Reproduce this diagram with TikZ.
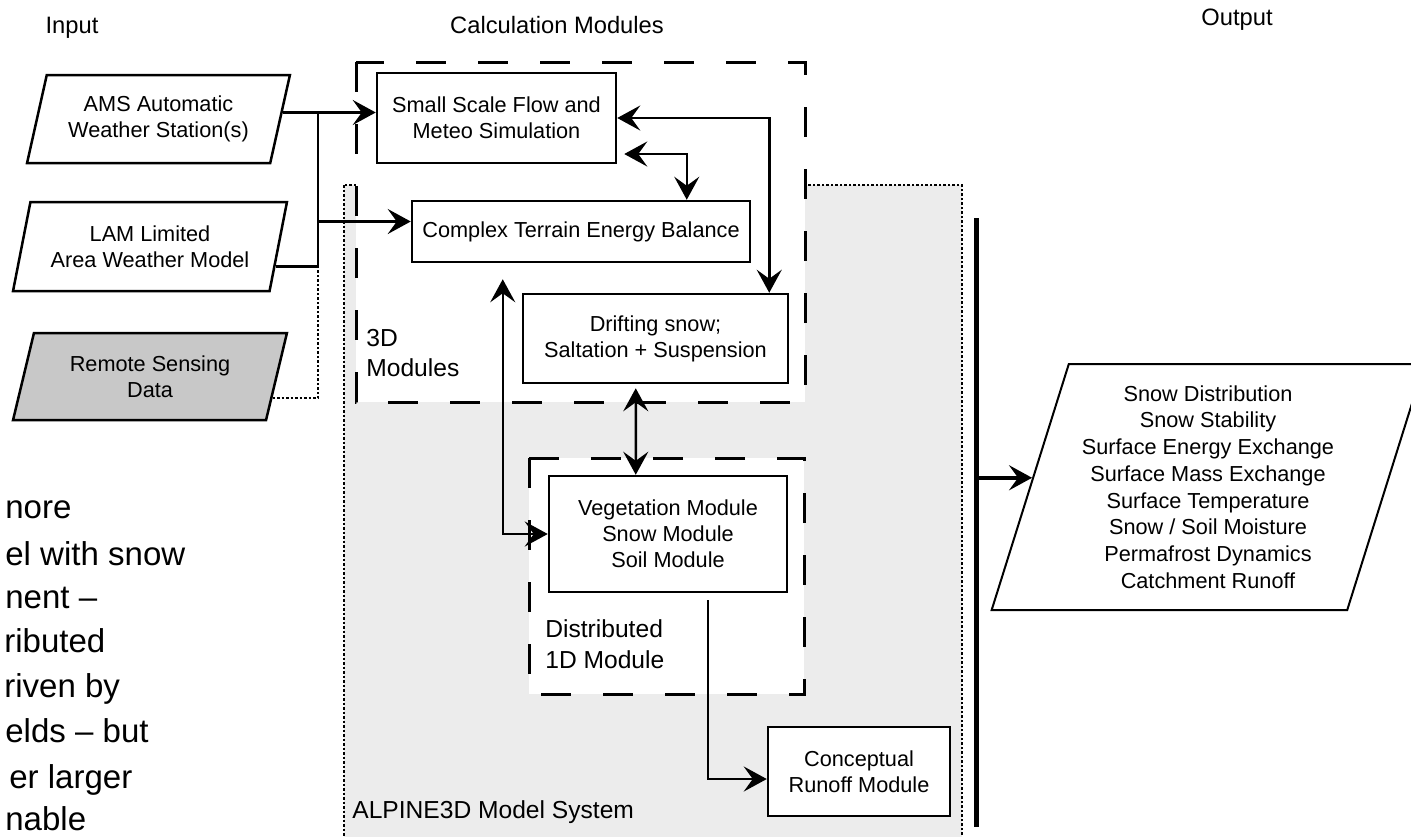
\documentclass[tikz,border=0pt]{standalone}
\usepackage{fontspec}
\setmainfont{Liberation Sans}
\usetikzlibrary{calc, arrows.meta, shapes.geometric}
\definecolor{rsgray}{RGB}{200,200,200}
\definecolor{sysgray}{RGB}{236,236,236}

\begin{document}
\begin{tikzpicture}[x=0.2mm, y=-0.2mm,
	>={Stealth[length=4.6mm, width=5mm, inset=1.8mm]},
	modbox/.style={draw, line width=0.5mm, fill=white, inner sep=0pt, align=center, font=\fontsize{12.35}{14.8}\selectfont},
	datbox/.style={modbox, trapezium, trapezium left angle=71, trapezium right angle=109, trapezium stretches=true},
	groupbox/.style={line width=0.6mm, dash pattern=on 6mm off 6.4mm, fill=white},
	grouplabel/.style={align=left, inner sep=0pt, font=\fontsize{14}{17.5}\selectfont},
	heading/.style={inner sep=0pt, font=\fontsize{13.5}{16}\selectfont},
	dotline/.style={line width=0.5mm, dash pattern=on 0.5mm off 0.4mm},
	link/.style={line width=0.5mm, ->},
	dlink/.style={line width=0.5mm, <->}]

	\useasboundingbox (0,0) rectangle (1411,836);
	\clip (0,0) rectangle (1411,836);

	% model system area and the two module groups
	\draw[dotline, fill=sysgray] (344,185) rectangle (962,860);
	\draw[groupbox] (356,62) rectangle (805,402);
	\draw[groupbox] (529,458) rectangle (804,694);

	\node[heading, anchor=base] (input) at (72,33) {Input};
	\node[heading, anchor=base] (calc) at (557,33) {Calculation Modules};
	\node[heading, anchor=base] (output) at (1237,25) {Output};

	% input data
	\node[datbox, minimum width=52.6mm, minimum height=17.6mm] (ams) at (158.5,119) {AMS Automatic\\Weather Station(s)};
	\node[datbox, minimum width=54.8mm, minimum height=17.8mm] (lam) at (150,246.5) {LAM Limited\\Area Weather Model};
	\node[datbox, fill=rsgray, minimum width=54.8mm, minimum height=17.4mm] (rs) at (150,376.5) {Remote Sensing\\Data};

	% calculation modules
	\node[modbox, minimum width=47.8mm, minimum height=18mm] (ssf) at (496.5,118) {Small Scale Flow and\\Meteo Simulation};
	\node[modbox, minimum width=67.6mm, minimum height=12.2mm] (cteb) at (581,231.5) {Complex Terrain Energy Balance};
	\node[modbox, minimum width=53mm, minimum height=17.8mm] (drift) at (655.5,338.5) {Drifting snow;\\Saltation + Suspension};
	\node[modbox, minimum width=47.6mm, minimum height=23.2mm] (veg) at (668,534) {Vegetation Module\\Snow Module\\Soil Module};
	\node[modbox, minimum width=36.4mm, minimum height=17.8mm] (crm) at (859,771.5) {Conceptual\\Runoff Module};

	\node[grouplabel, anchor=west] (lbl3d) at (366,353) {3D\\Modules};
	\node[grouplabel, anchor=west] (lbl1d) at (545,644) {Distributed\\1D Module};
	\node[grouplabel, anchor=base west] (lblsys) at (352,818) {ALPINE3D Model System};

	% output
	\node[datbox, line width=0.4mm, minimum width=86.8mm, minimum height=49.2mm, font=\fontsize{12.35}{15.2}\selectfont] (out) at (1208,487) {Snow Distribution\\Snow Stability\\Surface Energy Exchange\\Surface Mass Exchange\\Surface Temperature\\Snow / Soil Moisture\\Permafrost Dynamics\\Catchment Runoff};

	% input bus
	\coordinate (bus top) at (318,113);
	\coordinate (bus bot) at (318,265);
	\coordinate (cteb in) at ($(cteb.west)+(0,-10)$);
	\draw[link] (ams.3) -- (ams.3 -| ssf.west);
	\draw[line width=0.5mm] (lam.-9) -- (lam.-9 -| bus bot) -- (bus top);
	\draw[link] (bus top |- cteb in) -- (cteb in);
	\draw[dotline] (rs.-10) -| (bus bot);

	% coupling between modules
	\draw[dlink] (ssf.east) -| ($(drift.north east)+(-20,0)$);
	\draw[dlink] ($(ssf.east)+(7,36)$) -| ($(cteb.north west)+(276,0)$);
	\draw[dlink] (veg.west) -| ($(cteb.south west)+(92,16)$);
	\draw[dlink] ($(drift.south west)+(114,4)$) -- ($(veg.north west)+(88,0)$);
	\draw[link] ($(veg.south west)+(160,7)$) |- ($(crm.west)+(0,7.5)$);

	% output bar
	\coordinate (bar top) at (976,218);
	\coordinate (bar bot) at (976,827);
	\draw[line width=1mm] (bar top) -- (bar bot);
	\draw[line width=0.8mm, ->] (out.177 -| bar top) -- (out.177);

	% text of the slide behind, cut at the left edge
	\foreach \t/\xx/\yy in {nore/5/518, el with snow/5/565, nent --/5/608, ributed/4/652, riven by/4/697, elds -- but/5/742, er larger/9/788, nable/5/830}
		\node[anchor=base west, inner sep=0pt, font=\fontsize{18.8}{25}\selectfont] at (\xx,\yy) {\t};

\end{tikzpicture}
\end{document}
